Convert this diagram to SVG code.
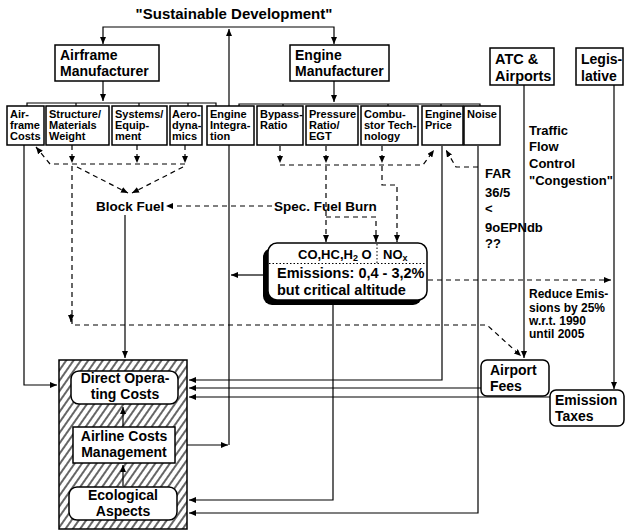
<svg xmlns="http://www.w3.org/2000/svg" xmlns:xlink="http://www.w3.org/1999/xlink" width="626" height="531" viewBox="0 0 626 531">
<defs>
<style>
.bx{fill:#fff;stroke:#000;stroke-width:1.5}
.t{font-family:"Liberation Sans",Arial,sans-serif;font-weight:bold;fill:#000}
.s{font-size:11px}
.m{font-size:14px}
.c{fill:none;stroke:#000;stroke-width:1.2}
.d{fill:none;stroke:#000;stroke-width:1.2;stroke-dasharray:5 4}
.dot{fill:none;stroke:#000;stroke-width:1;stroke-dasharray:1.5 2}
</style>
<marker id="ah" viewBox="0 0 10 10" refX="10" refY="5" markerWidth="7" markerHeight="6" markerUnits="userSpaceOnUse" orient="auto" preserveAspectRatio="none">
<path d="M0,0 L10,5 L0,10 z" fill="#000"/>
</marker>
<pattern id="hatch" width="6" height="6" patternUnits="userSpaceOnUse" patternTransform="rotate(35)">
<rect width="6" height="6" fill="#fff"/>
<line x1="3" y1="0" x2="3" y2="6" stroke="#000" stroke-width="1.2"/>
</pattern>
</defs>
<rect width="626" height="531" fill="#fff"/>

<g id="connectors">
<path class="c" d="M229,27 H103 V44" marker-end="url(#ah)"/>
<path class="c" d="M229,27 H334 V44" marker-end="url(#ah)"/>
<path class="c" d="M229,445 V29" marker-end="url(#ah)"/>
<path class="c" d="M187,445 H228" marker-end="url(#ah)"/>
<path class="c" d="M103,81 V101" marker-end="url(#ah)"/>
<path class="c" d="M27,106 V103 H216 V106 M76,103 V106 M139,103 V106 M188,103 V106"/>
<path class="c" d="M334,81 V102" marker-end="url(#ah)"/>
<path class="c" d="M239,106 V104 H480 V106 M283,104 V106 M388,104 V106 M441,104 V106"/>
<path class="d" d="M72,145 V163" marker-end="url(#ah)"/>
<path class="d" d="M137,145 V163" marker-end="url(#ah)"/>
<path class="d" d="M185,145 V163" marker-end="url(#ah)"/>
<path class="d" d="M185,164 H50 L36,147" marker-end="url(#ah)"/>
<path class="d" d="M77,167 L128,193" marker-end="url(#ah)"/>
<path class="d" d="M183,167 L132,193" marker-end="url(#ah)"/>
<path class="d" d="M72,166 V325 H487 L521,356" marker-end="url(#ah)"/>
<path class="c" d="M71,314 V322" marker-end="url(#ah)"/>
<path class="d" d="M272,206 H166" marker-end="url(#ah)"/>
<path class="d" d="M280,146 V163" marker-end="url(#ah)"/>
<path class="d" d="M326,146 V163" marker-end="url(#ah)"/>
<path class="d" d="M382,146 V163" marker-end="url(#ah)"/>
<path class="d" d="M280,165 H423 L434,150" marker-end="url(#ah)"/>
<path class="d" d="M326,166 V242" marker-end="url(#ah)"/>
<path class="d" d="M382,166 V185 H397 V242" marker-end="url(#ah)"/>
<path class="d" d="M326,217 H376 V242" marker-end="url(#ah)"/>
<path class="d" d="M478,167 H456 L446,150" marker-end="url(#ah)"/>
<path class="c" d="M478,146 V513 H189" marker-end="url(#ah)"/>
<path class="c" d="M442,146 V380 H189" marker-end="url(#ah)"/>
<path class="c" d="M481,388 H189" marker-end="url(#ah)"/>
<path class="c" d="M550,397 H189" marker-end="url(#ah)"/>
<path class="c" d="M333,304 V500 H189" marker-end="url(#ah)"/>
<path class="c" d="M24,144 V385 H57" marker-end="url(#ah)"/>
<path class="c" d="M125,215 V358" marker-end="url(#ah)"/>
<path class="c" d="M263,275 H231" marker-end="url(#ah)"/>
<path class="d" d="M428,280 H611" marker-end="url(#ah)"/>
<path class="c" d="M524,85 V358" marker-end="url(#ah)"/>
<path class="c" d="M614,85 V389" marker-end="url(#ah)"/>
</g>

<g id="title"><text class="t" font-size="15" x="234" y="19" text-anchor="middle">"Sustainable Development"</text></g>

<g id="airframe"><rect class="bx" x="55" y="45" width="104" height="36"/>
<text class="t m" x="60" y="60">Airframe</text><text class="t m" x="60" y="76">Manufacturer</text></g>
<g id="engine"><rect class="bx" x="290" y="45" width="99" height="36"/>
<text class="t m" x="295" y="60">Engine</text><text class="t m" x="295" y="76">Manufacturer</text></g>
<g id="atc"><rect class="bx" x="490" y="48" width="64" height="37"/>
<text class="t" font-size="14.5" x="495" y="64">ATC &amp;</text><text class="t" font-size="14.5" x="495" y="81">Airports</text></g>
<g id="legislative"><rect class="bx" x="576" y="48" width="47" height="37"/>
<text class="t" font-size="14" x="581" y="64">Legis-</text><text class="t" font-size="14" x="581" y="81">lative</text></g>

<g id="airframe-costs"><rect class="bx" x="7" y="106" width="37" height="39"/>
<text class="t s" x="10" y="118">Air-</text><text class="t s" x="10" y="129">frame</text><text class="t s" x="10" y="140">Costs</text></g>
<g id="structure"><rect class="bx" x="46" y="106" width="63" height="39"/>
<text class="t s" x="49" y="118">Structure/</text><text class="t s" x="49" y="129">Materials</text><text class="t s" x="49" y="140">Weight</text></g>
<g id="systems"><rect class="bx" x="112" y="106" width="55" height="39"/>
<text class="t s" x="115" y="118">Systems/</text><text class="t s" x="115" y="129">Equip-</text><text class="t s" x="115" y="140">ment</text></g>
<g id="aero"><rect class="bx" x="170" y="106" width="32" height="39"/>
<text class="t s" x="172" y="118">Aero-</text><text class="t s" x="172" y="129">dyna-</text><text class="t s" x="172" y="140">mics</text></g>
<g id="engine-integration"><rect class="bx" x="207" y="106" width="47" height="39"/>
<text class="t s" x="210" y="118">Engine</text><text class="t s" x="210" y="129">Integra-</text><text class="t s" x="210" y="140">tion</text></g>
<g id="bypass"><rect class="bx" x="257" y="106" width="46" height="39"/>
<text class="t s" x="260" y="118">Bypass-</text><text class="t s" x="260" y="129">Ratio</text></g>
<g id="pressure"><rect class="bx" x="306" y="106" width="52" height="39"/>
<text class="t s" x="309" y="118">Pressure</text><text class="t s" x="309" y="129">Ratio/</text><text class="t s" x="309" y="140">EGT</text></g>
<g id="combustor"><rect class="bx" x="361" y="106" width="57" height="39"/>
<text class="t s" x="364" y="118">Combu-</text><text class="t s" x="364" y="129">stor Tech-</text><text class="t s" x="364" y="140">nology</text></g>
<g id="engine-price"><rect class="bx" x="422" y="106" width="41" height="39"/>
<text class="t s" x="425" y="118">Engine</text><text class="t s" x="425" y="129">Price</text></g>
<g id="noise"><rect class="bx" x="464" y="106" width="36" height="39"/>
<text class="t s" x="467" y="118">Noise</text></g>

<g id="traffic"><text class="t" font-size="13" x="529" y="135">Traffic</text><text class="t" font-size="13" x="529" y="151">Flow</text><text class="t" font-size="13" x="529" y="168">Control</text><text class="t" font-size="13" x="529" y="185">"Congestion"</text></g>
<g id="far"><text class="t" font-size="13" x="485" y="178">FAR</text><text class="t" font-size="13" x="485" y="197">36/5</text><text class="t" font-size="13" x="485" y="213">&lt;</text><text class="t" font-size="13" x="485" y="232">9oEPNdb</text><text class="t" font-size="13" x="485" y="248">??</text></g>

<g id="block-fuel"><text class="t" font-size="13.5" x="96" y="211">Block Fuel</text></g>
<g id="spec-fuel"><text class="t" font-size="13.5" x="274" y="211">Spec. Fuel Burn</text></g>

<g id="emissions">
<rect x="263" y="248" width="159" height="57" rx="9" fill="#000"/>
<rect class="bx" x="268" y="243" width="159" height="57" rx="9" stroke-width="2"/>
<path class="dot" d="M377,244 V263 M269,263.5 H426"/>
<text class="t" font-size="13" x="298" y="259">CO,HC,H<tspan font-size="9" dy="2">2</tspan><tspan dy="-2"> O</tspan></text>
<text class="t" font-size="13" x="383" y="259">NO<tspan font-size="9" dy="2">x</tspan></text>
<text class="t" font-size="14.5" x="277" y="278">Emissions: 0,4 - 3,2%</text>
<text class="t" font-size="14.5" x="277" y="295">but critical altitude</text>
</g>

<g id="reduce"><text class="t" font-size="12" x="529" y="298">Reduce Emis-</text><text class="t" font-size="12" x="529" y="312">sions by 25%</text><text class="t" font-size="12" x="529" y="325">w.r.t. 1990</text><text class="t" font-size="12" x="529" y="338">until 2005</text></g>

<g id="airport-fees"><rect class="bx" x="481" y="360" width="68" height="36" rx="6"/>
<text class="t m" x="490" y="375">Airport</text><text class="t m" x="490" y="391">Fees</text></g>
<g id="emission-taxes"><rect class="bx" x="550" y="390" width="74" height="36" rx="6"/>
<text class="t m" x="555" y="405">Emission</text><text class="t m" x="555" y="421">Taxes</text></g>

<g id="airline">
<rect x="59" y="360" width="128" height="169" fill="url(#hatch)" stroke="#000" stroke-width="1.5"/>
<g id="doc"><rect class="bx" x="71" y="371" width="107" height="33" rx="8"/>
<text class="t m" x="125" y="383" text-anchor="middle">Direct Opera-</text><text class="t m" x="125" y="399" text-anchor="middle">ting Costs</text></g>
<g id="acm"><rect class="bx" x="73" y="427" width="102" height="36"/>
<text class="t m" x="124" y="441" text-anchor="middle">Airline Costs</text><text class="t m" x="124" y="457" text-anchor="middle">Management</text></g>
<g id="eco"><rect class="bx" x="69" y="487" width="108" height="33" rx="8"/>
<text class="t m" x="123" y="500" text-anchor="middle">Ecological</text><text class="t m" x="123" y="516" text-anchor="middle">Aspects</text></g>
<path class="c" d="M123,426 V407" marker-end="url(#ah)"/>
<path class="c" d="M123,486 V465" marker-end="url(#ah)"/>
</g>
</svg>
